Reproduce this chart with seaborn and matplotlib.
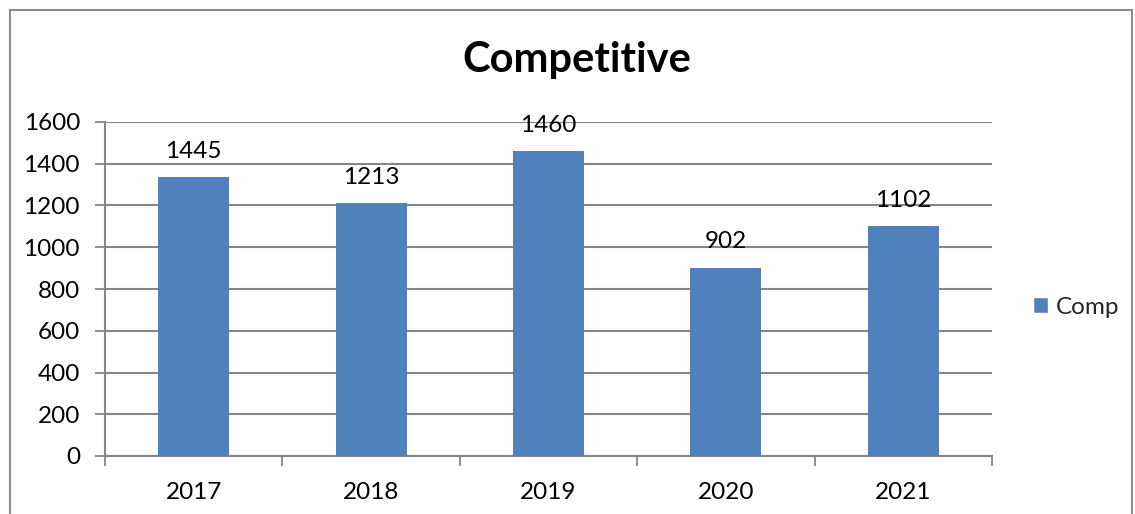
import matplotlib
matplotlib.use("Agg")
import matplotlib.pyplot as plt
import seaborn as sns
import pandas as pd
from matplotlib.patches import Rectangle, Patch

years = ["2017", "2018", "2019", "2020", "2021"]
bar_values = [1335, 1213, 1460, 902, 1102]
label_texts = ["1445", "1213", "1460", "902", "1102"]
series_name = "Comp"
title = "Competitive"
y_ticks = [0, 200, 400, 600, 800, 1000, 1200, 1400, 1600]

sns.set_theme(style="white")
plt.rcParams["font.family"] = ["Lato", "DejaVu Sans"]

W, H = 1135, 514
fig = plt.figure(figsize=(W / 100, H / 100), dpi=100)
ax = fig.add_axes([105 / W, (H - 456) / H, (992 - 105) / W, (456 - 122) / H])

df = pd.DataFrame({"Year": years, "Value": bar_values})
sns.barplot(data=df, x="Year", y="Value", color="#4F81BD", saturation=1,
            width=0.4, ax=ax, zorder=3, linewidth=0)

grid_color = "#868686"
fs = 17.5
ax.set_ylim(0, 1600)
ax.set_xlim(-0.5, len(years) - 0.5)
ax.set_yticks(y_ticks)
ax.set_yticklabels([str(t) for t in y_ticks], fontsize=fs, color="black")
ax.yaxis.grid(True, color=grid_color, linewidth=1.5, zorder=0)
ax.set_axisbelow(True)
ax.set_xlabel("")
ax.set_ylabel("")
ax.tick_params(axis="x", which="major", length=0, pad=19, labelsize=fs, labelcolor="black")
ax.set_xticks([i - 0.5 for i in range(len(years) + 1)], minor=True)
ax.tick_params(axis="x", which="minor", bottom=True, length=7, width=1.3,
               color=grid_color, direction="out")
ax.tick_params(axis="y", which="major", length=7, width=1.3, color=grid_color,
               direction="out", pad=11, left=True)

for side in ["top", "right"]:
    ax.spines[side].set_visible(False)
for side in ["left", "bottom"]:
    ax.spines[side].set_color(grid_color)
    ax.spines[side].set_linewidth(1.5)

ax.bar_label(ax.containers[0], labels=label_texts, padding=11, fontsize=fs, color="black")

fig.text(577 / W, 1 - 60 / H, title, ha="center", va="center",
         fontsize=30, fontweight="bold", color="black")

leg = fig.legend(handles=[Patch(facecolor="#4F81BD", label=series_name)],
                 loc="center left", bbox_to_anchor=(1033 / W, 1 - 307 / H),
                 frameon=False, fontsize=fs, handlelength=0.6, handleheight=0.6,
                 handletextpad=0.35, borderpad=0, borderaxespad=0)

fig.patches.append(Rectangle((10 / W, -0.1), (1132 - 10) / W, 1.1 - 10 / H,
                             transform=fig.transFigure, fill=False,
                             edgecolor="#8c8c8c", linewidth=1.5))

fig.savefig("out.png", dpi=100)
